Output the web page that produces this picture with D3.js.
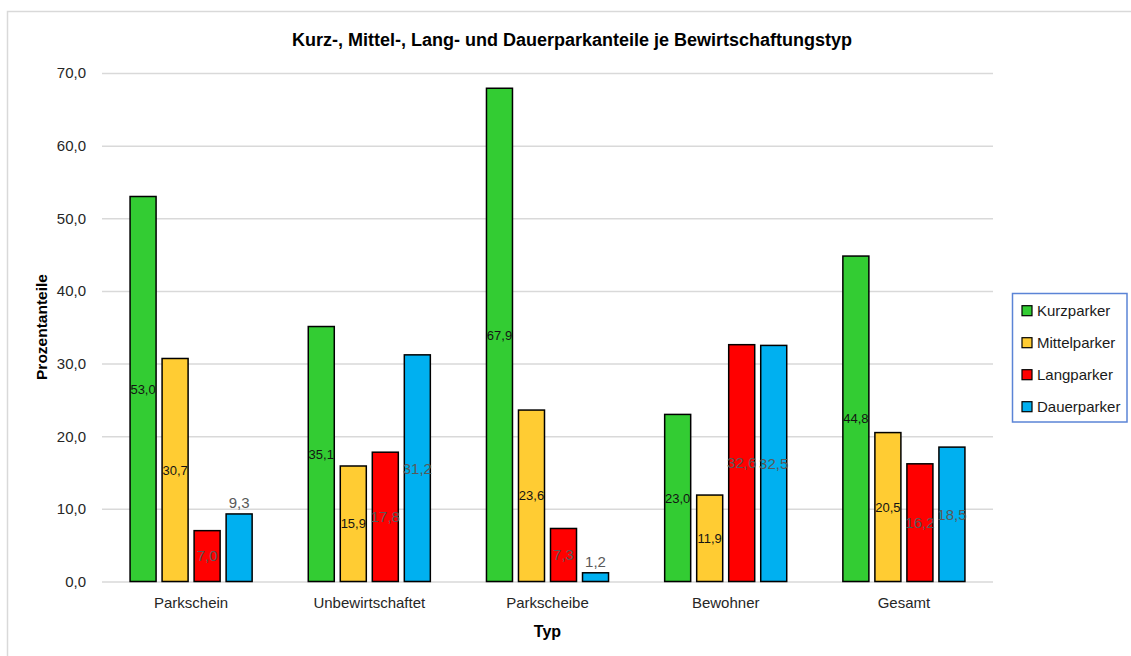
<!DOCTYPE html>
<html lang="de">
<head>
<meta charset="utf-8">
<title>Kurz-, Mittel-, Lang- und Dauerparkanteile je Bewirtschaftungstyp</title>
<script src="https://cdn.jsdelivr.net/npm/d3@7"></script>
<style>
  html, body { margin: 0; padding: 0; background: #fff; }
  svg { display: block; font-family: "Liberation Sans", Arial, sans-serif; }
</style>
</head>
<body>
<svg id="chart" width="1131" height="656"></svg>
<script>
// Bewirtschaftungstypen (x axis) and parker groups (series)
const categories = ["Parkschein", "Unbewirtschaftet", "Parkscheibe", "Bewohner", "Gesamt"];
const seriesNames = ["Kurzparker", "Mittelparker", "Langparker", "Dauerparker"];

// Prozentanteile per series, in category order
const kurzparker   = [53.0, 35.1, 67.9, 23.0, 44.8];
const mittelparker = [30.7, 15.9, 23.6, 11.9, 20.5];
const langparker   = [7.0, 17.8, 7.3, 32.6, 16.2];
const dauerparker  = [9.3, 31.2, 1.2, 32.5, 18.5];

const yTicks = [0, 10, 20, 30, 40, 50, 60, 70];

// Data labels drawn above the bar instead of in its middle
const labelsAbove = [["Parkschein", "Dauerparker"], ["Parkscheibe", "Dauerparker"]];

const seriesValues = [kurzparker, mittelparker, langparker, dauerparker];
const colors = ["#33cc33", "#ffcc33", "#ff0000", "#00b0f0"];
const labelStyle = [
  { size: 13, fill: "#141414" },
  { size: 13, fill: "#141414" },
  { size: 15, fill: "#595959" },
  { size: 15, fill: "#595959" }
];

const fmt = v => v.toFixed(1).replace(".", ",");

const svg = d3.select("#chart");

// chart frame
svg.append("rect")
  .attr("x", 7.5).attr("y", 11.5)
  .attr("width", 1130).attr("height", 660)
  .attr("fill", "#fff").attr("stroke", "#d9d9d9").attr("stroke-width", 1.5);

const plot = { left: 102, right: 993, top: 73, bottom: 581.5 };

const y = d3.scaleLinear().domain([0, 70]).range([plot.bottom, plot.top]);

const x0 = d3.scaleBand()
  .domain(categories)
  .range([plot.left, plot.right])
  .paddingInner(0.315)
  .paddingOuter(0.1575);

const x1 = d3.scaleBand()
  .domain(seriesNames)
  .range([0, x0.bandwidth()])
  .paddingInner(0.1875)
  .paddingOuter(0);

// horizontal gridlines + y tick labels
const yAxis = svg.append("g")
  .attr("transform", `translate(${plot.left},0)`)
  .call(d3.axisLeft(y)
    .tickValues(yTicks)
    .tickSize(-(plot.right - plot.left))
    .tickPadding(16)
    .tickFormat(fmt));
yAxis.select(".domain").remove();
yAxis.selectAll(".tick line").attr("stroke", "#d9d9d9").attr("stroke-width", 1.5);
yAxis.selectAll(".tick text")
  .attr("fill", "#262626")
  .style("font-size", "15px")
  .style("font-family", "'Liberation Sans', Arial, sans-serif");

// category labels
const xAxis = svg.append("g")
  .attr("transform", `translate(0,${plot.bottom})`)
  .call(d3.axisBottom(x0).tickSize(0).tickPadding(16));
xAxis.select(".domain").remove();
xAxis.selectAll(".tick text")
  .attr("fill", "#262626")
  .style("font-size", "15px")
  .style("font-family", "'Liberation Sans', Arial, sans-serif");

// bars
const rows = [];
seriesNames.forEach((s, si) => {
  categories.forEach((c, ci) => {
    rows.push({ series: s, si, category: c, value: seriesValues[si][ci] });
  });
});

const groups = svg.append("g").attr("class", "bars");
groups.selectAll("rect")
  .data(rows)
  .join("rect")
  .attr("x", d => x0(d.category) + x1(d.series))
  .attr("y", d => y(d.value))
  .attr("width", x1.bandwidth())
  .attr("height", d => y(0) - y(d.value))
  .attr("fill", d => colors[d.si])
  .attr("stroke", "#000")
  .attr("stroke-width", 1.5);

// data labels
const isAbove = d => labelsAbove.some(p => p[0] === d.category && p[1] === d.series);
svg.append("g").attr("class", "labels")
  .selectAll("text")
  .data(rows)
  .join("text")
  .attr("x", d => x0(d.category) + x1(d.series) + x1.bandwidth() / 2)
  .attr("y", d => isAbove(d) ? y(d.value) - 6 : (y(d.value) + y(0)) / 2)
  .attr("dy", d => isAbove(d) ? 0 : "0.36em")
  .attr("text-anchor", "middle")
  .attr("fill", d => labelStyle[d.si].fill)
  .style("font-size", d => labelStyle[d.si].size + "px")
  .text(d => fmt(d.value));

// title
svg.append("text")
  .attr("x", 572).attr("y", 46)
  .attr("text-anchor", "middle")
  .attr("fill", "#000")
  .style("font-size", "18px").style("font-weight", "bold")
  .text("Kurz-, Mittel-, Lang- und Dauerparkanteile je Bewirtschaftungstyp");

// axis titles
svg.append("text")
  .attr("x", (plot.left + plot.right) / 2).attr("y", 637)
  .attr("text-anchor", "middle")
  .attr("fill", "#000")
  .style("font-size", "16px").style("font-weight", "bold")
  .text("Typ");

svg.append("text")
  .attr("transform", `translate(47,327) rotate(-90)`)
  .attr("text-anchor", "middle")
  .attr("fill", "#000")
  .style("font-size", "15.5px").style("font-weight", "bold")
  .text("Prozentanteile");

// legend
const legend = svg.append("g").attr("class", "legend");
legend.append("rect")
  .attr("x", 1012.5).attr("y", 293.5)
  .attr("width", 114.5).attr("height", 128.5)
  .attr("fill", "#fff").attr("stroke", "#5b84d6").attr("stroke-width", 1.5);

const ly = d3.scalePoint().domain(seriesNames).range([310.7, 406.7]);
const items = legend.selectAll("g.item")
  .data(seriesNames)
  .join("g")
  .attr("class", "item")
  .attr("transform", d => `translate(1022,${ly(d)})`);
items.append("rect")
  .attr("x", 0).attr("y", -5)
  .attr("width", 10).attr("height", 10)
  .attr("fill", (d, i) => colors[i])
  .attr("stroke", "#000").attr("stroke-width", 1.2);
items.append("text")
  .attr("x", 15).attr("y", 0).attr("dy", "0.36em")
  .attr("fill", "#1a1a1a")
  .style("font-size", "15px")
  .text(d => d);
</script>
</body>
</html>
